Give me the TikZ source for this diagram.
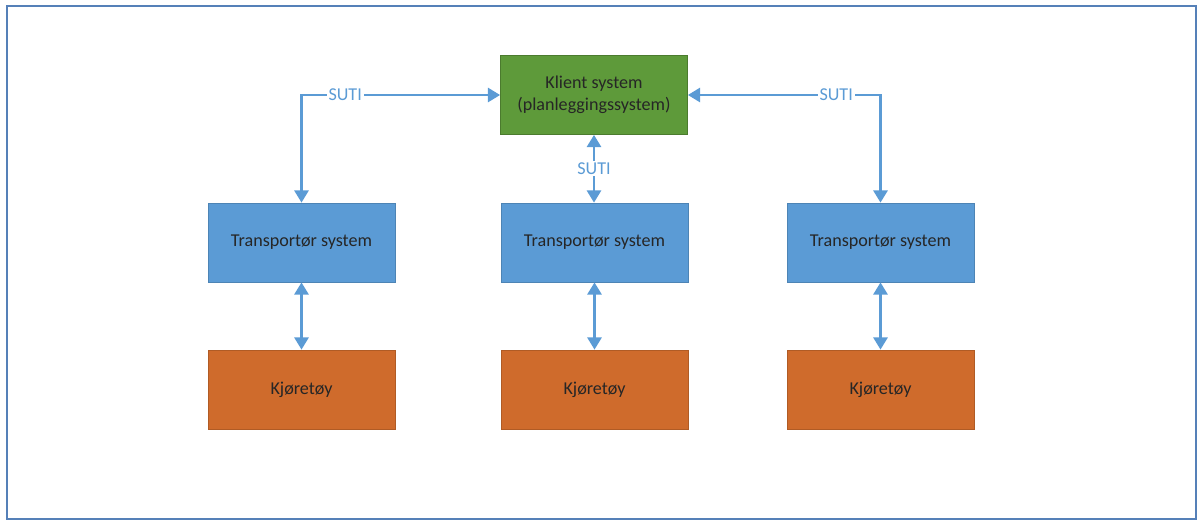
\documentclass[tikz,border=0pt]{standalone}
\usepackage{fontspec}
\setmainfont{Carlito}
\usepackage{xcolor}
\usetikzlibrary{arrows.meta}

\definecolor{klientgreen}{HTML}{5E9A3A}
\definecolor{transblue}{HTML}{5B9BD5}
\definecolor{vehorange}{HTML}{CF6B2C}
\definecolor{linkblue}{HTML}{5B9BD5}
\definecolor{framblue}{HTML}{5580B8}

\begin{document}
\begin{tikzpicture}[x=0.02cm, y=-0.02cm, font=\fontsize{10.3}{12.5}\selectfont,
		box/.style = {draw, line width=0.4pt, minimum width=187*0.02cm, minimum height=79*0.02cm, inner sep=0pt, text=black!85, align=center},
		klient/.style = {box, fill=klientgreen, draw=klientgreen!80!black},
		transp/.style = {box, fill=transblue, draw=transblue!85!black},
		vehicle/.style = {box, fill=vehorange, draw=vehorange!85!black},
		link/.style = {draw=linkblue, line width=1.6pt, {Triangle[width=8pt,length=7pt]}-{Triangle[width=8pt,length=7pt]}},
		suti/.style = {fill=white, text=linkblue, inner sep=1pt}]
		\useasboundingbox (0,0) rectangle (1200,521);
		\draw[framblue, line width=1.6pt] (7,6) rectangle (1196,519);
		
		% top
		\node[klient] (kl) at (594,95) {Klient system\\(planleggingssystem)};
		
		% transport systems
		\node[transp] (trL) at (301.5,242.5) {Transportør system};
		\node[transp] (trM) at (594.5,242.5) {Transportør system};
		\node[transp] (trR) at (880.5,242.5) {Transportør system};
		
		% vehicles
		\node[vehicle] (veL) at (301.5,389.5) {Kjøretøy};
		\node[vehicle] (veM) at (594.5,389.5) {Kjøretøy};
		\node[vehicle] (veR) at (880.5,389.5) {Kjøretøy};
		
		% connectors
		\draw[link] (trL.north) |- node[suti, pos=0.61] {SUTI} (kl.west);
		\draw[link] (kl.east) -| node[suti, pos=0.385] {SUTI} (trR.north);
		\draw[link] (kl.south) -- node[suti] {SUTI} (kl.south |- trM.north);
		\draw[link] (trL) -- (veL);
		\draw[link] (trM) -- (veM);
		\draw[link] (trR) -- (veR);
	\end{tikzpicture}
\end{document}
